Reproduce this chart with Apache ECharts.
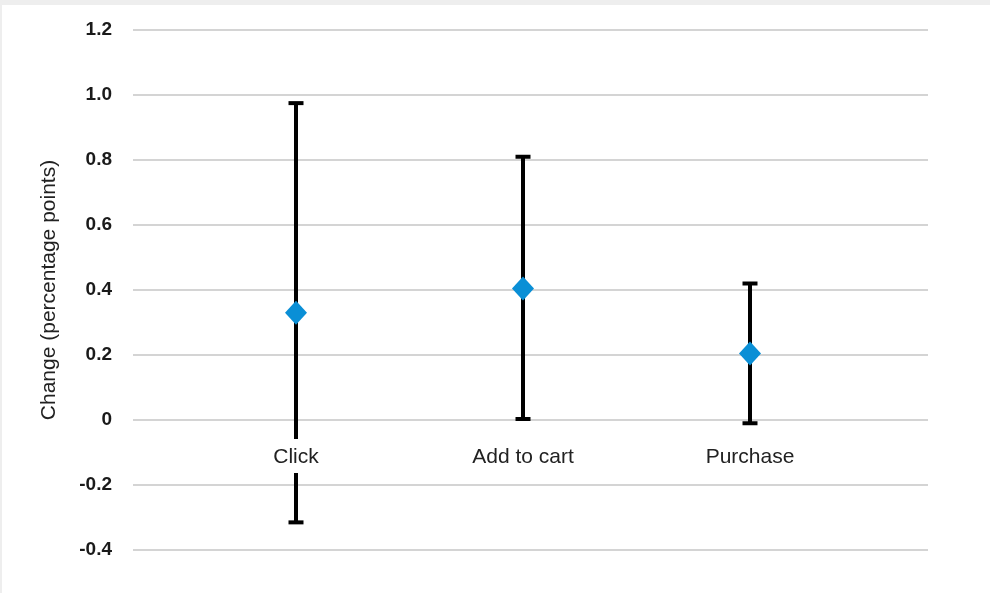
<!DOCTYPE html>
<html>
<head>
<meta charset="utf-8">
<script src="https://cdn.jsdelivr.net/npm/echarts@6/dist/echarts.min.js"></script>
<style>
  html, body { margin: 0; padding: 0; background: #ffffff; }
  #chart { width: 990px; height: 593px; }
</style>
</head>
<body>
<div id="chart"></div>
<script>
// Funnel steps and estimated change with confidence interval (percentage points)
const categories = ['Click', 'Add to cart', 'Purchase'];
const estimates = [0.33, 0.405, 0.205];
const lowerBounds = [-0.315, 0.003, -0.01];
const upperBounds = [0.975, 0.81, 0.42];
const yTicks = { min: -0.4, max: 1.2, step: 0.2 };

const FONT = '"Liberation Sans", Arial, Helvetica, sans-serif';
const chart = echarts.init(document.getElementById('chart'), null, { renderer: 'canvas' });

const PLOT_TOP = 30, PLOT_BOTTOM = 43, HEIGHT = 593;
const plotHeight = HEIGHT - PLOT_TOP - PLOT_BOTTOM;
// lift the category axis from the bottom edge up to the zero line
const zeroOffset = -plotHeight * (0 - yTicks.min) / (yTicks.max - yTicks.min);

const intervalData = categories.map((c, i) => [i, lowerBounds[i], upperBounds[i]]);
const pointData = categories.map((c, i) => [i, estimates[i]]);

chart.setOption({
  backgroundColor: '#ffffff',
  animation: false,
  graphic: [
    { type: 'rect', shape: { x: 0, y: 0, width: 990, height: 5 }, style: { fill: '#eeeeee' }, silent: true },
    { type: 'rect', shape: { x: 0, y: 0, width: 2, height: 593 }, style: { fill: '#eeeeee' }, silent: true }
  ],
  grid: [
    // full-width grid carrying the horizontal gridlines and tick labels
    { left: 133, right: 62, top: PLOT_TOP, bottom: PLOT_BOTTOM, outerBoundsMode: 'none' },
    // narrower grid holding the three categories
    { left: 182.5, right: 126.5, top: PLOT_TOP, bottom: PLOT_BOTTOM, outerBoundsMode: 'none' }
  ],
  xAxis: [
    { gridIndex: 0, type: 'value', min: 0, max: 1, show: false },
    {
      gridIndex: 1, type: 'category', data: categories, z: 10,
      position: 'bottom', offset: zeroOffset,
      axisLine: { show: false, onZero: false },
      axisTick: { show: false },
      axisLabel: {
        margin: 19, fontFamily: FONT, fontSize: 21, color: '#222222',
        lineHeight: 22, backgroundColor: '#ffffff', padding: [7, 4, 5, 4]
      }
    }
  ],
  yAxis: [
    {
      gridIndex: 0, type: 'value', min: yTicks.min, max: yTicks.max, interval: yTicks.step,
      axisLine: { show: false }, axisTick: { show: false },
      axisLabel: {
        margin: 21, fontFamily: FONT, fontSize: 19, fontWeight: 'bold', color: '#1a1a1a',
        formatter: v => Math.abs(v) < 1e-9 ? '0' : v.toFixed(1)
      },
      splitLine: { lineStyle: { color: '#c6c6c6', width: 1.5 } },
      name: 'Change (percentage points)', nameLocation: 'middle', nameGap: 73,
      nameTextStyle: { fontFamily: FONT, fontSize: 21, color: '#222222' }
    },
    {
      gridIndex: 1, type: 'value', min: yTicks.min, max: yTicks.max, interval: yTicks.step,
      axisLine: { show: false }, axisTick: { show: false }, axisLabel: { show: false },
      splitLine: { show: false }
    }
  ],
  series: [
    {
      type: 'custom', xAxisIndex: 1, yAxisIndex: 1, z: 3,
      data: intervalData,
      renderItem: (params, api) => {
        const x = api.value(0);
        const lo = api.coord([x, api.value(1)]);
        const hi = api.coord([x, api.value(2)]);
        const half = 7.5;
        const style = { stroke: '#000000', lineWidth: 4 };
        return {
          type: 'group',
          children: [
            { type: 'line', shape: { x1: hi[0], y1: hi[1], x2: lo[0], y2: lo[1] }, style },
            { type: 'line', shape: { x1: hi[0] - half, y1: hi[1], x2: hi[0] + half, y2: hi[1] }, style },
            { type: 'line', shape: { x1: lo[0] - half, y1: lo[1], x2: lo[0] + half, y2: lo[1] }, style }
          ]
        };
      }
    },
    {
      type: 'scatter', xAxisIndex: 1, yAxisIndex: 1, z: 5,
      data: pointData,
      symbol: 'diamond', symbolSize: [22, 24],
      itemStyle: { color: '#0a8fd6', opacity: 1 }
    }
  ]
});
</script>
</body>
</html>
